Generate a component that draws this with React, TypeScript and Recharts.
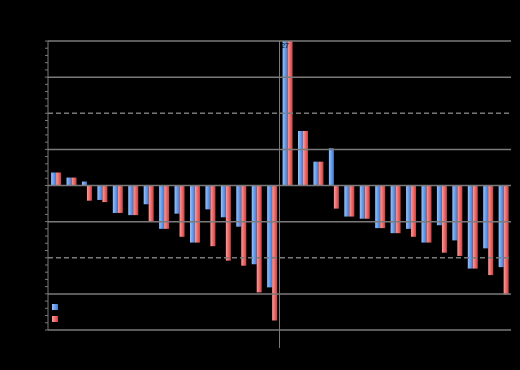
import { BarChart, Bar, XAxis, YAxis, ReferenceLine, Legend } from 'recharts'

const categories = [
  '1', '2', '3', '4', '5', '6', '7', '8', '9', '10',
  '11', '12', '13', '14', '15', '16', '17', '18', '19', '20',
  '21', '22', '23', '24', '25', '26', '27', '28', '29', '30',
]

const seriesA = [
  1.8, 1.1, 0.55, -2.0, -3.8, -4.1, -2.6, -6.0, -3.9, -7.9,
  -3.3, -4.4, -5.7, -10.9, -14.1, 27.4, 7.55, 3.3, 5.15, -4.3,
  -4.6, -5.9, -6.6, -6.0, -7.9, -5.5, -7.6, -11.5, -8.7, -11.3,
]

const seriesB = [
  1.8, 1.1, -2.1, -2.3, -3.8, -4.1, -5.0, -6.0, -7.1, -7.9,
  -8.4, -10.4, -11.1, -14.8, -18.7, 27.2, 7.55, 3.3, -3.2, -4.3,
  -4.6, -5.9, -6.6, -7.1, -7.9, -9.3, -9.75, -11.5, -12.4, -15.1,
]

const yTicks = [
  -20, -19, -18, -17, -16, -15, -14, -13, -12, -11,
  -10, -9, -8, -7, -6, -5, -4, -3, -2, -1,
  0, 1, 2, 3, 4, 5, 6, 7, 8, 9,
  10, 11, 12, 13, 14, 15, 16, 17, 18, 19, 20,
]
const solidLines = [-20, -15, -5, 0, 5, 15, 20]
const dashedLines = [-10, 10]

const data = categories.map((name, i) => ({ name, a: seriesA[i], b: seriesB[i] }))

const GRID = '#7a7a7a'

function YTick(props: any) {
  const { x, y, payload } = props
  if (payload.value % 5 !== 0) return null
  return (
    <text x={x - 2} y={y} dy={3} textAnchor="end" fontSize={8} fill="#000">
      {payload.value}
    </text>
  )
}

function OverflowLabel(props: any) {
  const { x, width, value } = props
  if (value <= 20) return null
  return (
    <text x={x + width / 2} y={40} textAnchor="middle" fontSize={7} fill="#000">
      {Math.round(value)}
    </text>
  )
}

export default function App() {
  return (
    <div style={{ background: '#000', width: 512, height: 360, fontFamily: 'Arial, sans-serif' }}>
      <style>{'html, body { background: #000; }'}</style>
      <BarChart
        width={512}
        height={360}
        data={data}
        margin={{ top: 33, right: 9, bottom: 38, left: 10 }}
        barCategoryGap="20%"
        barGap={0}
      >
        <defs>
          <linearGradient id="gBlue" x1="0" y1="0" x2="1" y2="0">
            <stop offset="0%" stopColor="#9cc2f7" />
            <stop offset="100%" stopColor="#3a78d6" />
          </linearGradient>
          <linearGradient id="gRed" x1="0" y1="0" x2="1" y2="0">
            <stop offset="0%" stopColor="#f7a0a0" />
            <stop offset="100%" stopColor="#d83a3a" />
          </linearGradient>
        </defs>
        <XAxis dataKey="name" hide />
        <YAxis
          width={30}
          domain={[-20, 20]}
          ticks={yTicks}
          interval={0}
          allowDataOverflow
          stroke={GRID}
          tickSize={3}
          tick={<YTick />}
        />
        {solidLines.map((v) => (
          <ReferenceLine key={'s' + v} y={v} stroke={GRID} strokeWidth={1.5} />
        ))}
        {dashedLines.map((v) => (
          <ReferenceLine key={'d' + v} y={v} stroke={GRID} strokeWidth={1.5} strokeDasharray="5 3" />
        ))}
        <ReferenceLine
          segment={[{ x: categories[14], y: 20 }, { x: categories[14], y: -22.5 }]}
          position="end"
          ifOverflow="visible"
          stroke={GRID}
          strokeWidth={1}
        />
        <Bar dataKey="a" name="Series A" fill="url(#gBlue)" isAnimationActive={false} label={<OverflowLabel />} />
        <Bar dataKey="b" name="Series B" fill="url(#gRed)" isAnimationActive={false} />
        <Legend
          layout="vertical"
          align="center"
          verticalAlign="middle"
          iconType="square"
          iconSize={6}
          formatter={(value: string) => <span style={{ color: '#000' }}>{value}</span>}
          wrapperStyle={{ left: 44, top: 292, width: 'auto', fontSize: 9, lineHeight: '12px' }}
        />
      </BarChart>
    </div>
  )
}
